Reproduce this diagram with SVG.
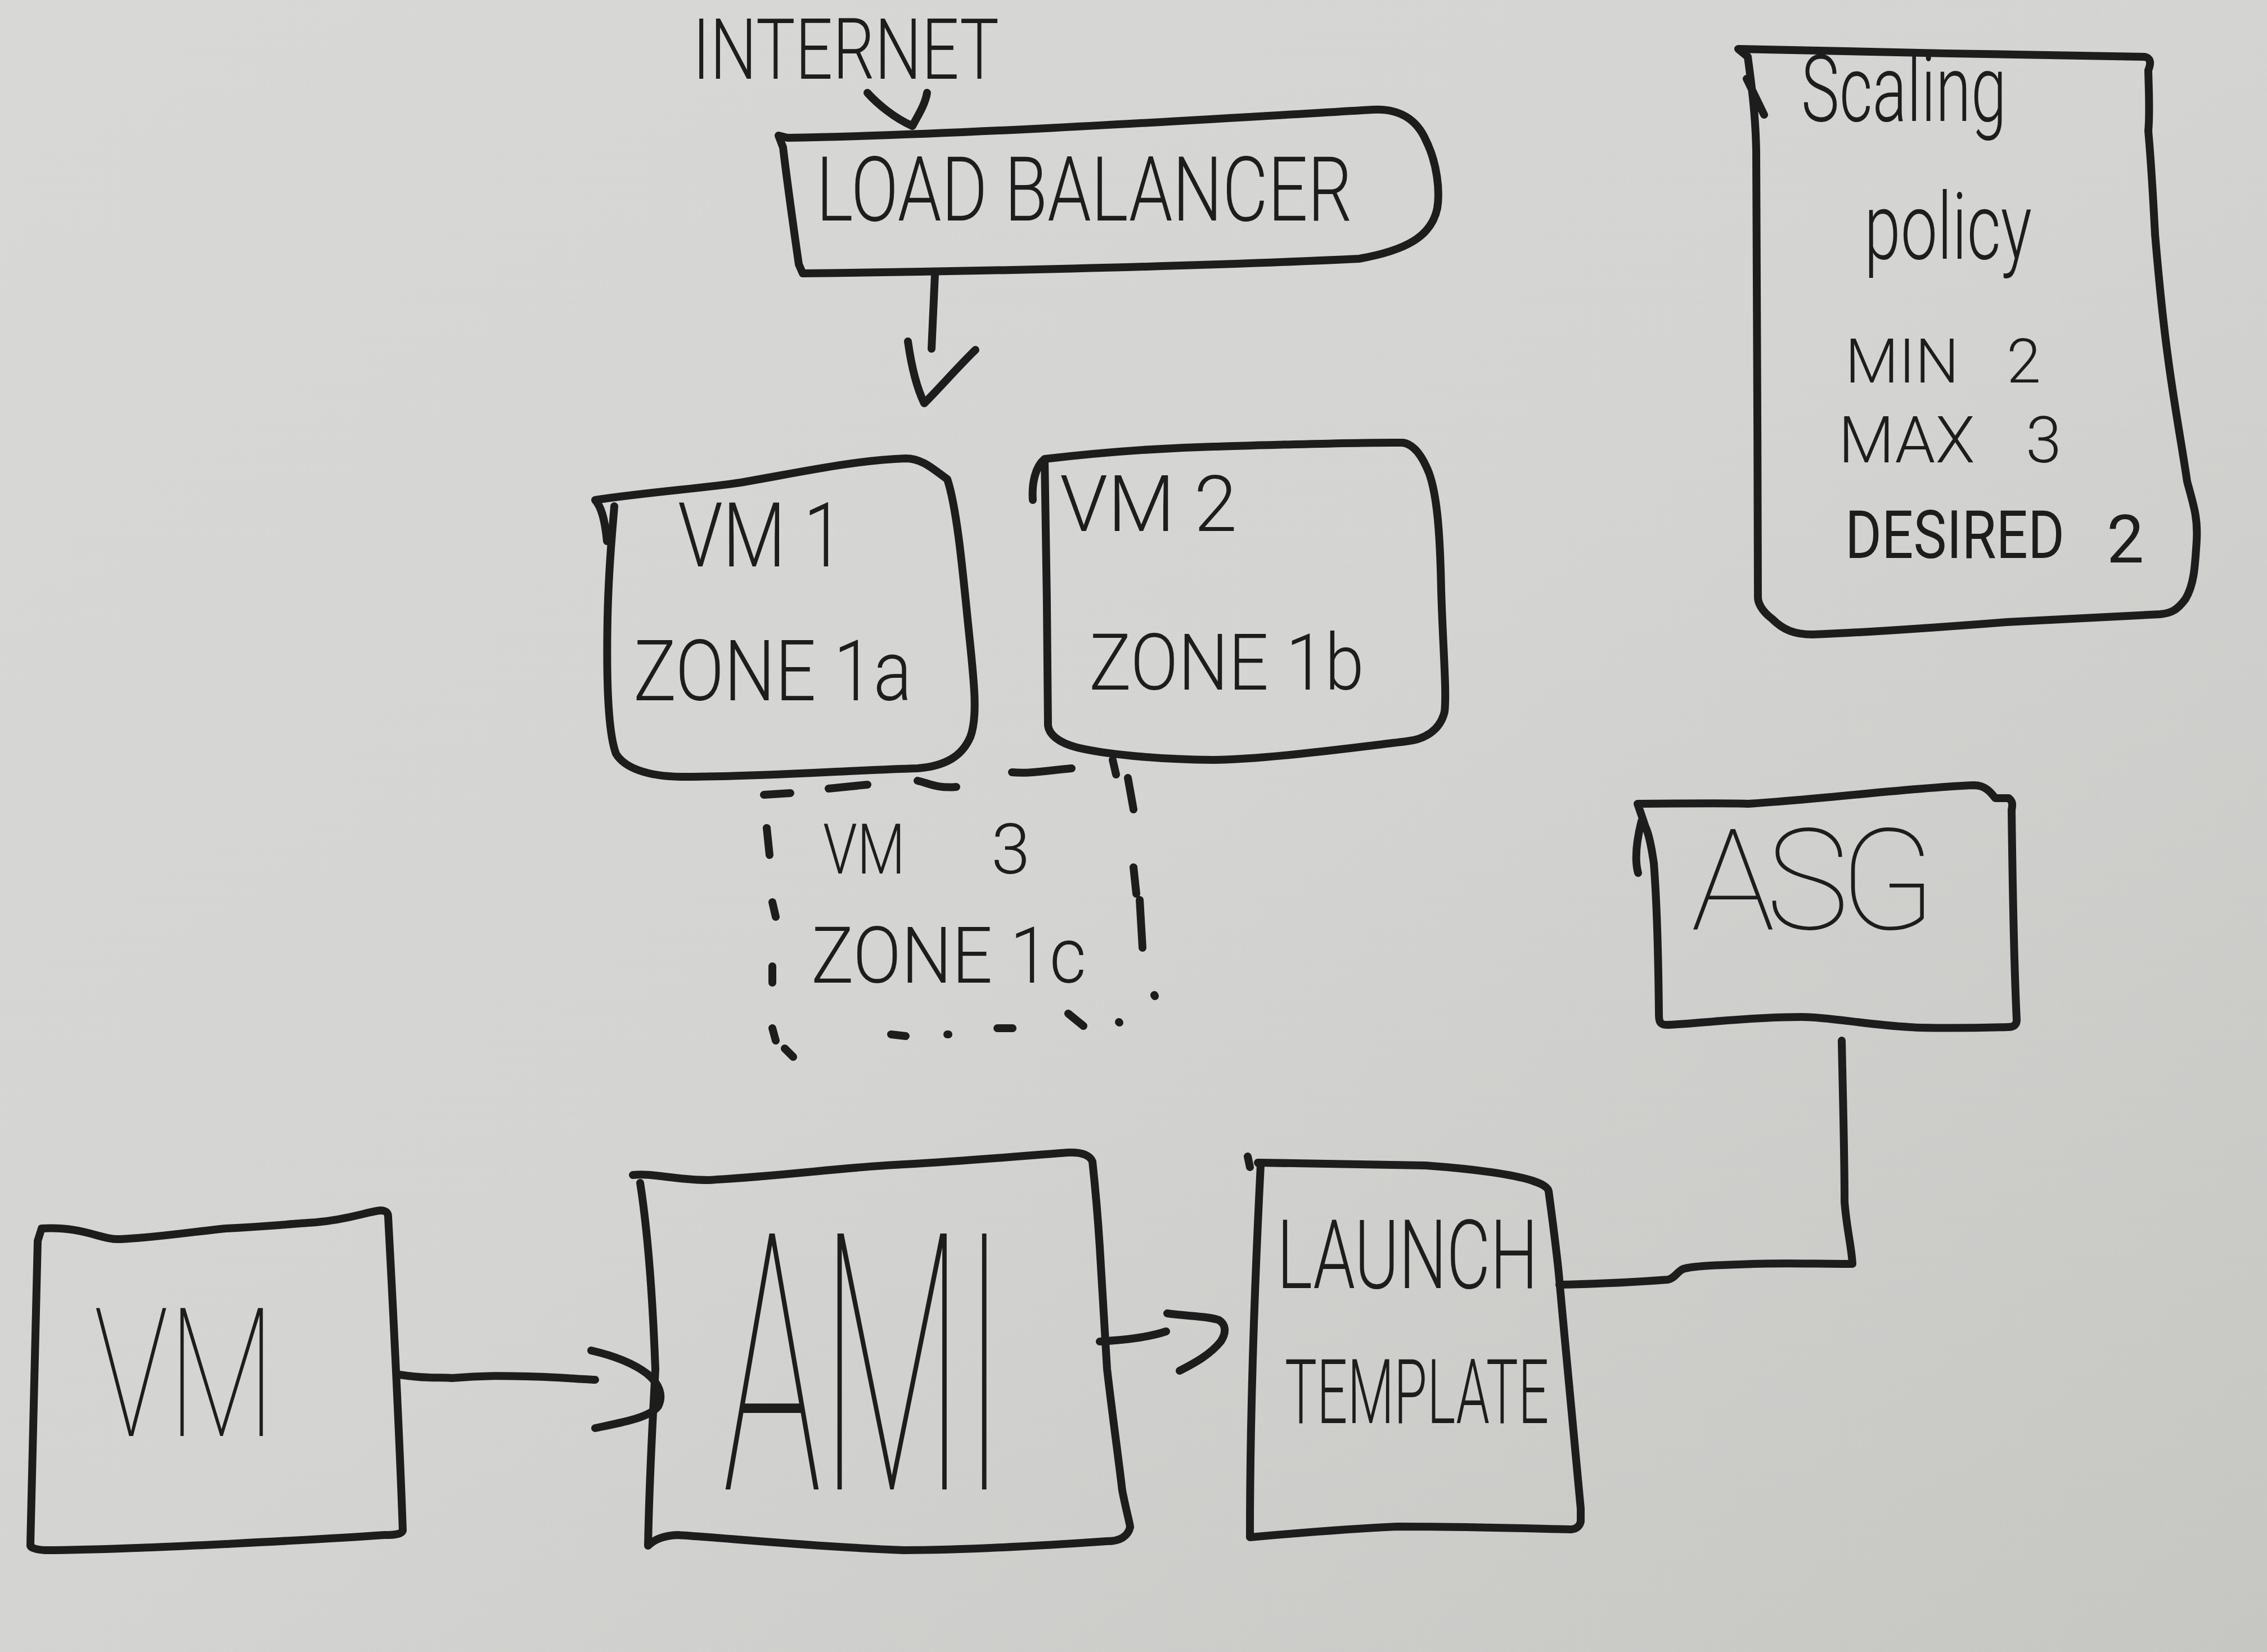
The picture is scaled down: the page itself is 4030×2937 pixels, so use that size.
<svg xmlns="http://www.w3.org/2000/svg" width="4030" height="2937" viewBox="0 0 4030 2937">
<defs>
<linearGradient id="paper" x1="0" y1="0" x2="1" y2="1">
<stop offset="0" stop-color="#d8d9d7"/>
<stop offset="0.5" stop-color="#d4d5d2"/>
<stop offset="1" stop-color="#c6c7c3"/>
</linearGradient>
<style>
.ink{fill:none;stroke:#1d1d1d;stroke-width:14;stroke-linecap:round;stroke-linejoin:round}
.t{font-family:"Roboto","Liberation Sans",Arial,sans-serif;font-weight:300;fill:#1d1d1d}
.big{font-weight:100}
</style>
</defs>
<rect x="0" y="0" width="4030" height="2937" fill="url(#paper)"/>

<g id="internet">
<text class="t" x="1231" y="140" font-size="150" textLength="545" lengthAdjust="spacingAndGlyphs">INTERNET</text>
</g>

<g id="load-balancer">
<path class="ink" d="M1384,241 L1392,262 C1400,330 1410,400 1420,470 L1427,486 C1700,483 2100,475 2416,460 C2500,445 2545,420 2555,370 C2560,340 2555,290 2535,250 C2520,215 2490,192 2440,195 C2100,215 1700,240 1400,245 Z"/>
<text class="t" x="1451" y="392" font-size="160" textLength="953" lengthAdjust="spacingAndGlyphs">LOAD BALANCER</text>
</g>

<g id="vm1">
<path class="ink" d="M1058,889 C1068,900 1075,920 1079,962 M1058,889 C1150,875 1250,868 1316,858 C1420,840 1520,818 1610,815 C1640,815 1660,835 1684,852 C1700,900 1710,1000 1720,1100 C1730,1200 1740,1270 1725,1310 C1710,1345 1680,1362 1631,1366 C1500,1370 1320,1382 1210,1381 C1150,1380 1110,1365 1095,1340 C1080,1300 1078,1200 1080,1100 C1082,1000 1090,930 1092,900"/>
<text class="t" x="1205" y="1007" font-size="160" textLength="295" lengthAdjust="spacingAndGlyphs">VM 1</text>
<text class="t" x="1126" y="1245" font-size="150" textLength="495" lengthAdjust="spacingAndGlyphs">ZONE 1a</text>
</g>

<g id="vm2">
<path class="ink" d="M1857,816 C1840,830 1834,860 1836,889 M1857,816 C1950,805 2050,797 2157,794 C2300,790 2420,786 2494,787 C2515,790 2530,815 2540,840 C2555,880 2560,950 2562,1050 C2565,1150 2572,1230 2568,1265 C2560,1300 2530,1315 2500,1318 C2400,1330 2250,1350 2157,1351 C2050,1350 1960,1340 1915,1329 C1880,1320 1865,1305 1863,1290 C1862,1150 1860,950 1857,816 Z"/>
<text class="t" x="1884" y="944" font-size="140" textLength="315" lengthAdjust="spacingAndGlyphs">VM 2</text>
<text class="t" x="1936" y="1226" font-size="140" textLength="489" lengthAdjust="spacingAndGlyphs">ZONE 1b</text>
</g>

<g id="vm3">
<path class="ink" d="M1358,1413 L1405,1410 M1473,1402 L1542,1395 M1631,1388 C1650,1392 1665,1402 1700,1399 M1799,1373 C1830,1376 1860,1370 1905,1366 M1978,1351 L1984,1377 M2005,1383 L2015,1439 M2015,1542 L2020,1589 M2026,1600 L2031,1685 M2052,1769 L2053,1771 M1989,1817 L1990,1818 M1899,1802 L1926,1824 M1773,1828 L1800,1828 M1684,1839 L1686,1839 M1584,1839 L1610,1842 M1373,1828 L1379,1850 M1395,1864 L1410,1879 M1363,1472 L1368,1520 M1373,1604 L1379,1630 M1373,1718 L1373,1747"/>
<text class="t" font-size="125"><tspan x="1463" y="1553" textLength="170" lengthAdjust="spacingAndGlyphs">VM </tspan><tspan x="1762" y="1553">3</tspan></text>
<text class="t" x="1442" y="1747" font-size="140" textLength="489" lengthAdjust="spacingAndGlyphs">ZONE 1c</text>
</g>

<g id="scaling-policy">
<path class="ink" d="M3105,140 L3136,204 M3090,87 C3300,92 3600,98 3813,101 C3822,103 3825,110 3819,125 C3820,170 3822,200 3819,233 C3825,300 3828,360 3831,417 C3838,500 3845,570 3854,636 C3865,720 3880,800 3888,856 C3900,900 3907,920 3905,960 C3902,1010 3900,1040 3885,1065 C3870,1085 3860,1090 3840,1092 C3700,1100 3600,1104 3567,1106 C3450,1115 3300,1125 3222,1128 C3190,1128 3170,1120 3150,1100 C3130,1085 3125,1070 3125,1062 C3124,800 3124,500 3122,270 C3121,200 3112,140 3107,101 Z"/>
<text class="t" x="3202" y="215" font-size="165" textLength="365" lengthAdjust="spacingAndGlyphs">Scaling</text>
<text class="t" x="3314" y="460" font-size="165" textLength="298" lengthAdjust="spacingAndGlyphs">policy</text>
<text class="t" font-size="110"><tspan x="3280" y="680">MIN </tspan><tspan x="3567" y="680">2</tspan></text>
<text class="t" font-size="115"><tspan x="3268" y="822">MAX </tspan><tspan x="3601" y="822">3</tspan></text>
<text class="t" font-size="118" style="font-weight:400" transform="translate(3280,992) scale(0.83,1)" x="0" y="0" textLength="470" lengthAdjust="spacingAndGlyphs">DESIRED</text>
<text class="t" font-size="118" style="font-weight:400" x="3745" y="1000">2</text>
</g>

<g id="asg">
<path class="ink" d="M2918,1460 C2908,1500 2906,1530 2912,1552 M2911,1429 C3000,1428 3100,1428 3107,1429 C3250,1420 3400,1400 3509,1396 C3530,1396 3540,1410 3547,1419 L3571,1419 C3578,1425 3578,1430 3576,1440 C3578,1600 3582,1750 3585,1813 C3585,1822 3580,1826 3570,1826 C3500,1828 3420,1828 3394,1826 C3320,1822 3250,1808 3203,1808 C3100,1808 3000,1822 2963,1822 C2950,1822 2949,1815 2949,1803 C2948,1700 2945,1600 2940,1535 C2935,1500 2930,1480 2925,1470 C2920,1455 2915,1440 2911,1429 Z"/>
<text class="t big" x="3006" y="1652" font-size="250" textLength="436" lengthAdjust="spacing">ASG</text>
</g>

<g id="launch-template">
<path class="ink" d="M2218,2056 L2222,2075 M2236,2067 C2350,2068 2450,2070 2533,2072 C2620,2078 2690,2088 2724,2099 C2745,2106 2752,2112 2753,2118 C2760,2170 2768,2230 2772,2275 C2785,2420 2800,2570 2810,2682 L2810,2705 C2808,2715 2800,2719 2791,2719 C2700,2717 2600,2714 2485,2714 C2400,2718 2300,2726 2222,2733 C2222,2500 2232,2250 2241,2072 Z"/>
<text class="t" font-size="170" transform="translate(2270,2290) scale(0.66,1)" x="0" y="0" textLength="703" lengthAdjust="spacingAndGlyphs">LAUNCH</text>
<text class="t" font-size="160" transform="translate(2284,2530) scale(0.56,1)" x="0" y="0" textLength="838" lengthAdjust="spacingAndGlyphs">TEMPLATE</text>
</g>

<g id="vm">
<path class="ink" d="M67,2206 L74,2184 C150,2180 180,2205 214,2203 C280,2200 340,2190 402,2184 C480,2180 530,2175 562,2173 C620,2168 650,2155 676,2152 C688,2152 690,2158 690,2163 C700,2350 710,2550 716,2721 C714,2728 700,2729 683,2729 C600,2735 500,2740 402,2745 C300,2750 150,2756 80,2756 C60,2755 54,2750 54,2748 C58,2550 63,2350 67,2206 Z"/>
<text class="t big" font-size="320" transform="translate(167,2553) scale(0.665,1)" x="0" y="0" textLength="484" lengthAdjust="spacingAndGlyphs">VM</text>
</g>

<g id="ami">
<path class="ink" d="M1125,2089 C1160,2085 1200,2098 1259,2098 C1400,2090 1500,2075 1607,2070 C1750,2062 1850,2052 1901,2049 C1925,2048 1938,2055 1942,2065 C1948,2120 1952,2170 1955,2217 C1960,2300 1965,2380 1968,2434 C1978,2520 1988,2590 1995,2650 C2003,2690 2009,2710 2009,2715 C2005,2732 1990,2740 1968,2740 C1850,2748 1720,2756 1607,2756 C1450,2750 1300,2735 1205,2729 C1175,2730 1160,2740 1152,2748 C1155,2600 1162,2500 1165,2434 C1160,2300 1150,2180 1138,2103"/>
<text class="t big" font-size="640" transform="translate(1285,2648) scale(0.44,1)" x="0" y="0" textLength="1143" lengthAdjust="spacingAndGlyphs">AMI</text>
</g>

<g id="connectors">
<path class="ink" d="M1542,165 C1560,185 1590,210 1622,224 C1632,205 1645,185 1648,165"/>
<path class="ink" d="M1662,488 L1656,620 M1614,607 C1620,650 1630,690 1643,717 C1670,690 1705,650 1734,622"/>
<path class="ink" d="M710,2444 C760,2452 790,2448 803,2450 C860,2445 900,2446 937,2447 C990,2448 1030,2452 1058,2453 M1051,2401 C1090,2410 1125,2423 1150,2442 C1172,2460 1180,2480 1170,2500 C1155,2520 1110,2528 1058,2539"/>
<path class="ink" d="M1955,2385 C2000,2382 2040,2378 2073,2367 M2075,2335 C2110,2340 2150,2340 2167,2347 C2180,2355 2180,2370 2170,2385 C2150,2410 2120,2425 2097,2437"/>
<path class="ink" d="M3274,1850 C3276,1950 3279,2050 3279,2136 C3282,2180 3292,2220 3293,2247 C3230,2247 3170,2245 3117,2247 C3060,2249 3010,2250 2992,2256 C2980,2262 2978,2272 2965,2275 C2900,2280 2820,2283 2772,2284"/>
</g>
</svg>
